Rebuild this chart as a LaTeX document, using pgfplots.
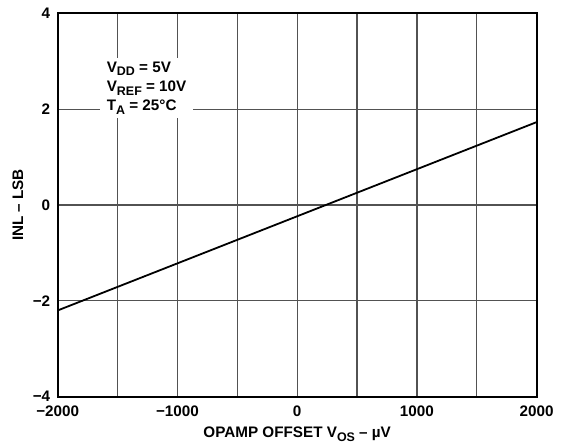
\documentclass[border=0pt]{standalone}
\usepackage{fontspec}
\setmainfont{Liberation Sans}
\usepackage{pgfplots}
\pgfplotsset{compat=1.18}
\newcommand{\sub}[1]{\raisebox{-3.5bp}{\fontsize{12.5}{12.5}\selectfont #1}}
\begin{document}
\begin{tikzpicture}[x=1bp,y=1bp]
\useasboundingbox (-57.7bp,-46.3bp) rectangle (512.3bp,396.7bp);
\begin{axis}[
  at={(0,0)}, anchor=south west,
  scale only axis, width=479bp, height=383.4bp,
  xmin=-2000, xmax=2000, ymin=-4, ymax=4,
  xtick={-2000,-1000,0,1000,2000},
  xticklabels={−2000,−1000,0,1000,2000},
  minor xtick={-1500,-500,500,1500},
  ytick={-4,-2,0,2,4},
  yticklabels={−4,−2,0,2,4},
  grid=both,
  major grid style={draw=black!68, line width=1.2bp},
  minor grid style={draw=black!68, line width=1.2bp},
  major tick length=0pt, minor tick length=0pt,
  axis line style={line width=1.8bp, black},
  tick label style={font=\fontsize{15.3}{17}\selectfont\bfseries},
  xticklabel style={anchor=north, yshift=-6bp},
  yticklabel style={anchor=east, xshift=-4bp},
  label style={font=\fontsize{15.3}{17}\selectfont\bfseries},
  xlabel={OPAMP OFFSET V\sub{OS} – µV},
  ylabel={INL – LSB},
  xlabel style={anchor=base, at={(axis description cs:0.5,0)}, yshift=-41bp},
  ylabel style={anchor=center, at={(axis description cs:-0.0829,0.5)}},
  clip=false,
]
\addplot[black, line width=1.8bp] coordinates {(-2000,-2.20) (2000,1.73)};
\node[anchor=north west, fill=white, inner xsep=7bp, inner ysep=4bp, align=left,
      font=\fontsize{15.3}{19.5}\selectfont\bfseries]
  at (axis cs:-1650,3.08)
  {V\sub{DD} = 5V\\V\sub{REF} = 10V\\T\sub{A} = 25°C};
\end{axis}
\end{tikzpicture}
\end{document}
